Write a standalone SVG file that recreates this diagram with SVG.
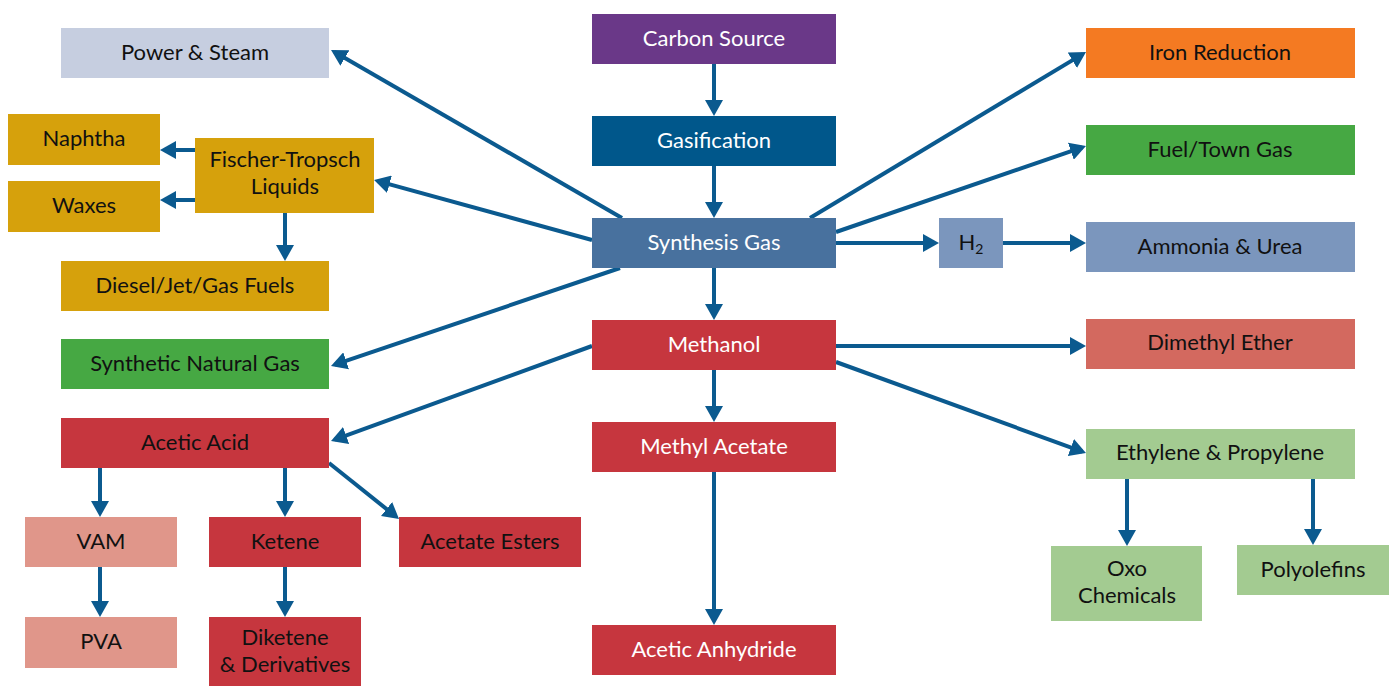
<svg xmlns="http://www.w3.org/2000/svg" width="1392" height="686" viewBox="0 0 1392 686">
<defs>
<style>
text{font-family:Lato,"Open Sans","Liberation Sans",sans-serif;font-size:22px;text-anchor:middle;fill:#111}
.w{fill:#fff}
.c line{stroke:#0b5a8f;stroke-width:4;marker-end:url(#ah)}
</style>
<marker id="ah" markerUnits="userSpaceOnUse" markerWidth="16" markerHeight="18" viewBox="0 0 16 18" refX="12" refY="9" orient="auto">
<path d="M0,0 L16,9 L0,18 z" fill="#0b5a8f"/>
</marker>
</defs>
<rect width="1392" height="686" fill="#fff"/>
<g class="c" id="connectors">
<line x1="714" y1="64" x2="714" y2="112"/>
<line x1="714" y1="166" x2="714" y2="214"/>
<line x1="714" y1="268" x2="714" y2="316"/>
<line x1="714" y1="370" x2="714" y2="418"/>
<line x1="714" y1="472" x2="714" y2="621"/>
<line x1="622" y1="218" x2="334.5" y2="52"/>
<line x1="592" y1="240" x2="377.9" y2="181.1"/>
<line x1="620" y1="268" x2="334.8" y2="364.7"/>
<line x1="592" y1="346" x2="334.8" y2="439.6"/>
<line x1="810" y1="218" x2="1082.6" y2="54.1"/>
<line x1="836" y1="232" x2="1082.2" y2="147.3"/>
<line x1="836" y1="243" x2="935" y2="243"/>
<line x1="1003" y1="243" x2="1082" y2="243"/>
<line x1="836" y1="346" x2="1082" y2="346"/>
<line x1="836" y1="362" x2="1082.2" y2="451.6"/>
<line x1="195" y1="150" x2="164" y2="150"/>
<line x1="195" y1="200" x2="164" y2="200"/>
<line x1="285" y1="213" x2="285" y2="257"/>
<line x1="100" y1="468" x2="100" y2="513"/>
<line x1="285" y1="468" x2="285" y2="513"/>
<line x1="329" y1="463" x2="395.9" y2="516.5"/>
<line x1="100" y1="567" x2="100" y2="613"/>
<line x1="285" y1="567" x2="285" y2="613"/>
<line x1="1127" y1="479" x2="1127" y2="542"/>
<line x1="1313" y1="479" x2="1313" y2="541"/>
</g>
<g id="carbon-source"><rect x="592" y="14" width="244" height="50" fill="#6a3888"/><text class="w" x="714" y="46">Carbon Source</text></g>
<g id="gasification"><rect x="592" y="116" width="244" height="50" fill="#00578b"/><text class="w" x="714" y="148">Gasification</text></g>
<g id="synthesis-gas"><rect x="592" y="218" width="244" height="50" fill="#48719e"/><text class="w" x="714" y="250">Synthesis Gas</text></g>
<g id="methanol"><rect x="592" y="320" width="244" height="50" fill="#c6363e"/><text class="w" x="714" y="352">Methanol</text></g>
<g id="methyl-acetate"><rect x="592" y="422" width="244" height="50" fill="#c6363e"/><text class="w" x="714" y="454">Methyl Acetate</text></g>
<g id="acetic-anhydride"><rect x="592" y="625" width="244" height="50" fill="#c6363e"/><text class="w" x="714" y="657">Acetic Anhydride</text></g>
<g id="power-steam"><rect x="61" y="28" width="268" height="50" fill="#c6cee0"/><text x="195" y="60">Power &amp; Steam</text></g>
<g id="naphtha"><rect x="8" y="114" width="152" height="51" fill="#d6a10c"/><text x="84" y="146">Naphtha</text></g>
<g id="waxes"><rect x="8" y="181" width="152" height="51" fill="#d6a10c"/><text x="84" y="213">Waxes</text></g>
<g id="fischer-tropsch"><rect x="195" y="138" width="179" height="75" fill="#d6a10c"/><text x="285" y="167">Fischer-Tropsch</text><text x="285" y="194">Liquids</text></g>
<g id="diesel"><rect x="61" y="261" width="268" height="50" fill="#d6a10c"/><text x="195" y="293">Diesel/Jet/Gas Fuels</text></g>
<g id="sng"><rect x="61" y="339" width="268" height="50" fill="#46a843"/><text x="195" y="371">Synthetic Natural Gas</text></g>
<g id="acetic-acid"><rect x="61" y="418" width="268" height="50" fill="#c6363e"/><text x="195" y="450">Acetic Acid</text></g>
<g id="vam"><rect x="25" y="517" width="152" height="50" fill="#e0968a"/><text x="101" y="549">VAM</text></g>
<g id="pva"><rect x="25" y="617" width="152" height="51" fill="#e0968a"/><text x="101" y="649">PVA</text></g>
<g id="ketene"><rect x="209" y="517" width="152" height="50" fill="#c6363e"/><text x="285" y="549">Ketene</text></g>
<g id="diketene"><rect x="209" y="617" width="152" height="69" fill="#c6363e"/><text x="285" y="645">Diketene</text><text x="285" y="672">&amp; Derivatives</text></g>
<g id="acetate-esters"><rect x="399" y="517" width="182" height="50" fill="#c6363e"/><text x="490" y="549">Acetate Esters</text></g>
<g id="iron-reduction"><rect x="1086" y="28" width="269" height="50" fill="#f47a22"/><text x="1220" y="60">Iron Reduction</text></g>
<g id="fuel-town-gas"><rect x="1086" y="125" width="269" height="50" fill="#46a843"/><text x="1220" y="157">Fuel/Town Gas</text></g>
<g id="h2"><rect x="939" y="218" width="64" height="50" fill="#7b96bd"/><text x="971" y="250">H<tspan font-size="14" dy="4">2</tspan></text></g>
<g id="ammonia-urea"><rect x="1086" y="222" width="269" height="50" fill="#7b96bd"/><text x="1220" y="254">Ammonia &amp; Urea</text></g>
<g id="dme"><rect x="1086" y="319" width="269" height="50" fill="#d3695f"/><text x="1220" y="350">Dimethyl Ether</text></g>
<g id="ethylene-propylene"><rect x="1086" y="429" width="269" height="50" fill="#a3cb91"/><text x="1220" y="460">Ethylene &amp; Propylene</text></g>
<g id="oxo-chemicals"><rect x="1051" y="546" width="151" height="75" fill="#a3cb91"/><text x="1127" y="576">Oxo</text><text x="1127" y="603">Chemicals</text></g>
<g id="polyolefins"><rect x="1237" y="545" width="152" height="50" fill="#a3cb91"/><text x="1313" y="577">Polyolefins</text></g>
</svg>
